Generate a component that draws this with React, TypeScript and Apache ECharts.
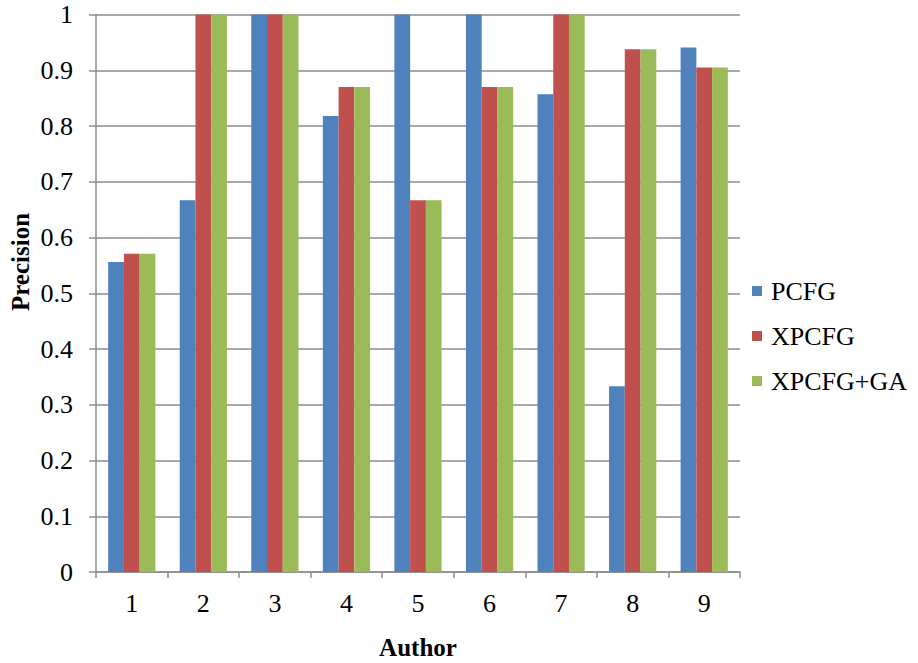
import React, { useEffect, useRef } from "react";
import * as echarts from "echarts";

const authors = ["1", "2", "3", "4", "5", "6", "7", "8", "9"];
const pcfg = [0.556, 0.667, 1, 0.818, 1, 1, 0.857, 0.333, 0.941];
const xpcfg = [0.571, 1, 1, 0.87, 0.667, 0.87, 1, 0.9375, 0.905];
const xpcfgGa = [0.571, 1, 1, 0.87, 0.667, 0.87, 1, 0.9375, 0.905];
const seriesNames = ["PCFG", "XPCFG", "XPCFG+GA"];
const colors = ["#4F81BD", "#C0504D", "#9BBB59"];

const FONT = "Liberation Serif";
const GRID_COLOR = "#8c8c8c";

export default function App() {
  const ref = useRef<HTMLDivElement>(null);

  useEffect(() => {
    if (!ref.current) return;
    const chart = echarts.init(ref.current, undefined, { renderer: "svg" });
    const values = [pcfg, xpcfg, xpcfgGa];
    chart.setOption({
      animation: false,
      backgroundColor: "#ffffff",
      color: colors,
      grid: { left: 96, right: 178, top: 14.5, bottom: 91, containLabel: false },
      legend: {
        orient: "vertical",
        left: 752,
        top: 278,
        padding: 0,
        itemWidth: 10,
        itemHeight: 10,
        itemGap: 19,
        icon: "rect",
        textStyle: { fontFamily: FONT, fontSize: 26, color: "#000", lineHeight: 26, padding: [0, 0, 0, 4] },
        data: seriesNames,
      },
      xAxis: {
        type: "category",
        data: authors,
        boundaryGap: true,
        axisLine: { show: true, lineStyle: { color: GRID_COLOR, width: 1.5 } },
        axisTick: { show: true, length: 6, alignWithLabel: false, lineStyle: { color: GRID_COLOR, width: 1.5 } },
        axisLabel: { fontFamily: FONT, fontSize: 26, color: "#000", margin: 18 },
        splitLine: { show: false },
      },
      yAxis: {
        type: "value",
        min: 0,
        max: 1,
        interval: 0.1,
        axisLine: { show: true, lineStyle: { color: GRID_COLOR, width: 1.5 } },
        axisTick: { show: true, length: 7, lineStyle: { color: GRID_COLOR, width: 1.5 } },
        axisLabel: {
          fontFamily: FONT,
          fontSize: 26,
          color: "#000",
          margin: 23,
          formatter: (v: number) => String(Math.round(v * 10) / 10),
        },
        splitLine: { show: true, lineStyle: { color: GRID_COLOR, width: 1.5 } },
      },
      series: seriesNames.map((name, i) => ({
        name,
        type: "bar",
        data: values[i],
        barGap: "0%",
        barCategoryGap: "34%",
        itemStyle: { color: colors[i] },
      })),
      graphic: [
        {
          type: "text",
          x: 20,
          y: 262,
          rotation: Math.PI / 2,
          style: {
            text: "Precision",
            fontFamily: FONT,
            fontSize: 25,
            fontWeight: "bold",
            fill: "#000",
            align: "center",
            verticalAlign: "middle",
          },
        },
        {
          type: "text",
          x: 418,
          y: 647,
          style: {
            text: "Author",
            fontFamily: FONT,
            fontSize: 25,
            fontWeight: "bold",
            fill: "#000",
            align: "center",
            verticalAlign: "middle",
          },
        },
      ],
    });
    return () => chart.dispose();
  }, []);

  return (
    <div
      ref={ref}
      style={{ position: "fixed", left: 0, top: 0, width: 918, height: 663, background: "#fff" }}
    />
  );
}
